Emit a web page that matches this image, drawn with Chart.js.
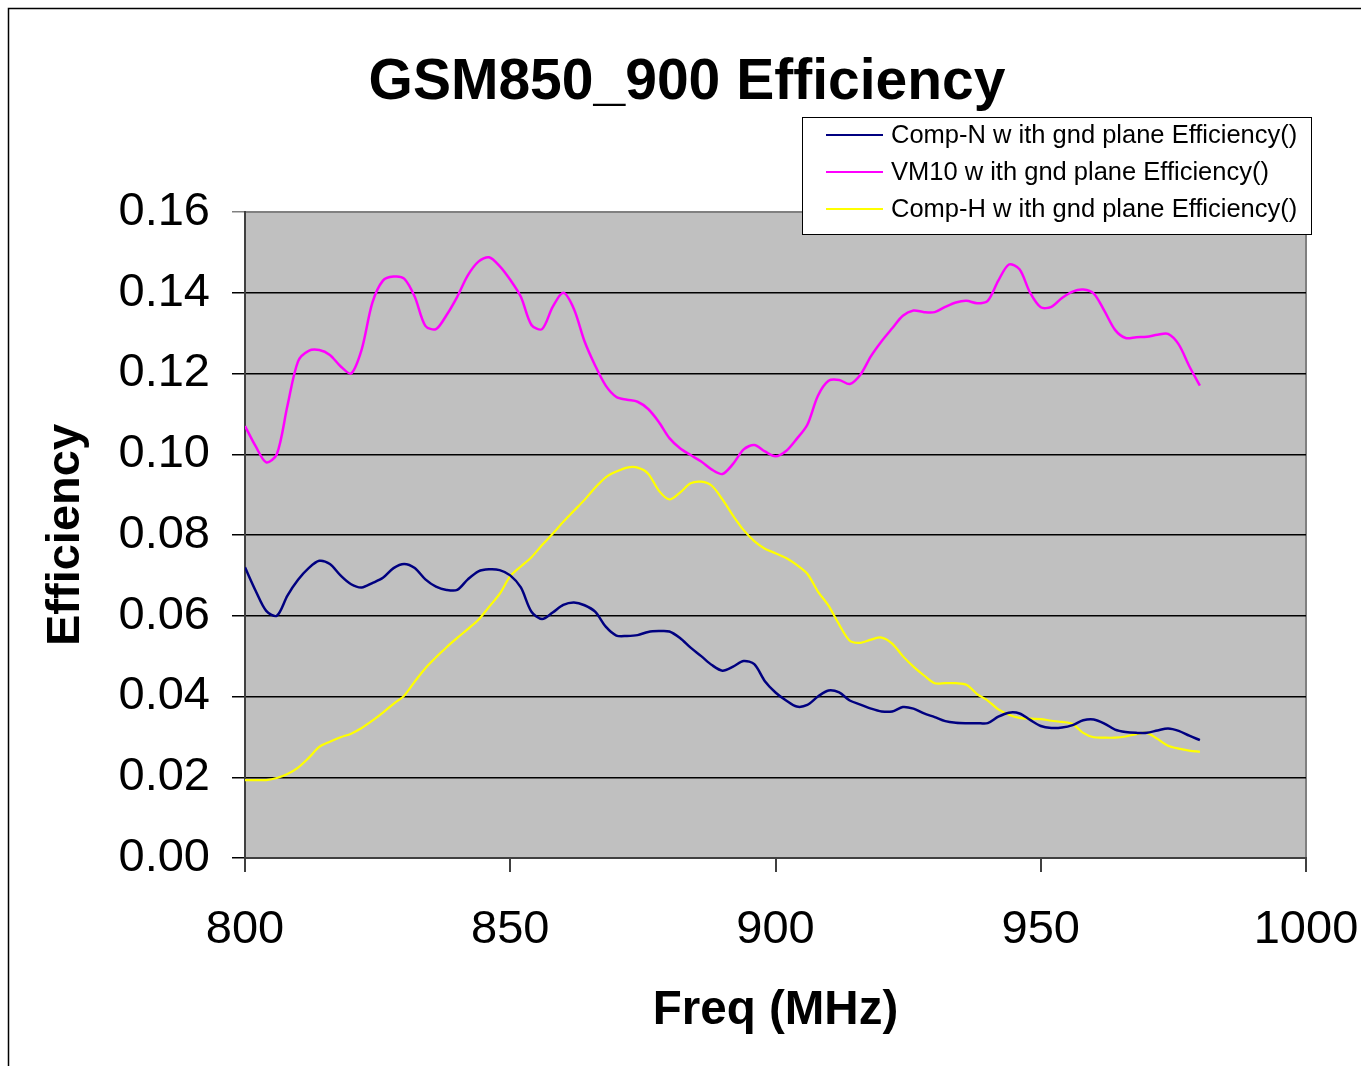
<!DOCTYPE html>
<html>
<head>
<meta charset="utf-8">
<script src="https://cdn.jsdelivr.net/npm/chart.js@4.4.1/dist/chart.umd.min.js"></script>
<style>
  html, body { margin: 0; padding: 0; background: #fff; }
  #wrap { width: 1361px; height: 1066px; }
</style>
</head>
<body>
<div id="wrap"><canvas id="effChart" width="1361" height="1066"></canvas></div>
<script>
const FREQ = [800,802,804,806,808,810,812,814,816,818,820,822,824,826,828,830,832,834,836,838,
  840,842,844,846,848,850,852,854,856,858,860,862,864,866,868,870,872,874,876,878,
  880,882,884,886,888,890,892,894,896,898,900,902,904,906,908,910,912,914,916,918,
  920,922,924,926,928,930,932,934,936,938,940,942,944,946,948,950,952,954,956,958,
  960,962,964,966,968,970,972,974,976,978,980];

const COMP_N = [0.0720,0.0662,0.0612,0.0600,0.0650,0.0689,0.0718,0.0736,0.0728,0.0700,
  0.0678,0.0670,0.0681,0.0694,0.0718,0.0728,0.0718,0.0690,0.0672,0.0664,
  0.0664,0.0690,0.0710,0.0715,0.0713,0.0700,0.0670,0.0610,0.0592,0.0608,
  0.0627,0.0633,0.0626,0.0610,0.0573,0.0551,0.0550,0.0552,0.0560,0.0562,
  0.0561,0.0545,0.0521,0.0500,0.0478,0.0464,0.0474,0.0488,0.0480,0.0438,
  0.0410,0.0390,0.0375,0.0379,0.0400,0.0415,0.0410,0.0390,0.0380,0.0370,
  0.0363,0.0363,0.0374,0.0370,0.0358,0.0349,0.0339,0.0335,0.0334,0.0334,
  0.0334,0.0350,0.0360,0.0358,0.0342,0.0327,0.0322,0.0323,0.0329,0.0341,
  0.0343,0.0333,0.0318,0.0312,0.0310,0.0310,0.0316,0.0321,0.0315,0.0303,0.0292];

const VM10 = [0.1070,0.1020,0.0980,0.1000,0.1120,0.1230,0.1256,0.1258,0.1246,0.1218,
  0.1200,0.1260,0.1375,0.1430,0.1440,0.1435,0.1390,0.1318,0.1310,0.1345,
  0.1390,0.1443,0.1477,0.1488,0.1466,0.1432,0.1390,0.1320,0.1310,0.1365,
  0.1400,0.1360,0.1280,0.1220,0.1170,0.1142,0.1135,0.1130,0.1112,0.1080,
  0.1040,0.1015,0.0998,0.0982,0.0962,0.0951,0.0976,0.1012,0.1023,0.1007,
  0.0995,0.1008,0.1038,0.1073,0.1145,0.1182,0.1184,0.1174,0.1197,0.1243,
  0.1280,0.1312,0.1343,0.1356,0.1352,0.1352,0.1365,0.1376,0.1380,0.1374,
  0.1380,0.1430,0.1470,0.1458,0.1400,0.1364,0.1365,0.1387,0.1403,0.1408,
  0.1398,0.1355,0.1308,0.1288,0.1290,0.1291,0.1296,0.1298,0.1272,0.1218,0.1170];

const COMP_H = [0.0193,0.0193,0.0193,0.0198,0.0208,0.0224,0.0248,0.0275,0.0288,0.0299,
  0.0308,0.0322,0.0340,0.0360,0.0382,0.0402,0.0437,0.0470,0.0497,0.0522,
  0.0545,0.0567,0.0590,0.0622,0.0654,0.0698,0.0722,0.0745,0.0775,0.0803,
  0.0833,0.0860,0.0887,0.0917,0.0943,0.0957,0.0967,0.0967,0.0952,0.0910,
  0.0888,0.0905,0.0928,0.0932,0.0922,0.0888,0.0848,0.0812,0.0785,0.0766,
  0.0755,0.0743,0.0726,0.0704,0.0660,0.0625,0.0578,0.0538,0.0533,0.0541,
  0.0546,0.0531,0.0500,0.0474,0.0452,0.0433,0.0433,0.0433,0.0429,0.0406,
  0.0390,0.0368,0.0355,0.0347,0.0345,0.0344,0.0340,0.0337,0.0332,0.0310,
  0.0299,0.0298,0.0298,0.0301,0.0307,0.0310,0.0295,0.0278,0.0271,0.0266,0.0263];

const LABELS = ['Comp-N w ith gnd plane Efficiency()', 'VM10 w ith gnd plane Efficiency()', 'Comp-H w ith gnd plane Efficiency()'];
const COLORS = ['#000080', '#FF00FF', '#FFFF00'];
const FONT = '"Liberation Sans", Arial, sans-serif';

const toPoints = arr => FREQ.map((f, i) => ({ x: f, y: arr[i] }));

// grey plot area + outer frame, drawn under the grid
const plotBg = {
  id: 'plotBg',
  beforeDraw(chart) {
    const { ctx, chartArea: a } = chart;
    ctx.save();
    ctx.strokeStyle = '#000';
    ctx.lineWidth = 1.5;
    ctx.beginPath();
    ctx.moveTo(8.5, chart.height);
    ctx.lineTo(8.5, 8.5);
    ctx.lineTo(chart.width, 8.5);
    ctx.stroke();
    ctx.fillStyle = '#C0C0C0';
    ctx.fillRect(a.left, a.top, a.right - a.left, a.bottom - a.top);
    ctx.strokeStyle = '#808080';
    ctx.lineWidth = 2;
    ctx.strokeRect(a.left, a.top, a.right - a.left, a.bottom - a.top);
    ctx.restore();
  }
};

// boxed legend sitting over the top right corner of the plot
const boxLegend = {
  id: 'boxLegend',
  afterDraw(chart) {
    const { ctx } = chart;
    const x = 802, y = 117, w = 509, h = 117;
    ctx.save();
    ctx.fillStyle = '#fff';
    ctx.fillRect(x, y, w, h);
    ctx.strokeStyle = '#000';
    ctx.lineWidth = 1;
    ctx.strokeRect(x + 0.5, y + 0.5, w, h);
    ctx.font = '25.5px ' + FONT;
    ctx.textBaseline = 'middle';
    chart.data.datasets.forEach((ds, i) => {
      const cy = 135 + i * 37;
      ctx.strokeStyle = ds.borderColor;
      ctx.lineWidth = 2;
      ctx.beginPath();
      ctx.moveTo(826, cy);
      ctx.lineTo(883, cy);
      ctx.stroke();
      ctx.fillStyle = '#000';
      ctx.fillText(ds.label, 891, cy + 1);
    });
    ctx.restore();
  }
};

new Chart(document.getElementById('effChart'), {
  type: 'line',
  data: {
    datasets: [
      { label: LABELS[0], data: toPoints(COMP_N), borderColor: COLORS[0], backgroundColor: COLORS[0], borderWidth: 2.5, pointRadius: 0, tension: 0.3 },
      { label: LABELS[1], data: toPoints(VM10), borderColor: COLORS[1], backgroundColor: COLORS[1], borderWidth: 2.5, pointRadius: 0, tension: 0.3 },
      { label: LABELS[2], data: toPoints(COMP_H), borderColor: COLORS[2], backgroundColor: COLORS[2], borderWidth: 2.2, pointRadius: 0, tension: 0.3 }
    ]
  },
  options: {
    responsive: false,
    animation: false,
    layout: { padding: { left: 68, right: 55, top: 0, bottom: 0 } },
    plugins: {
      legend: { display: false },
      tooltip: { enabled: false },
      title: {
        display: true,
        text: 'GSM850_900 Efficiency',
        color: '#000',
        font: { family: FONT, size: 57, weight: 'bold' },
        padding: { top: 49, bottom: 94.6 }
      }
    },
    scales: {
      x: {
        type: 'linear',
        min: 800,
        max: 1000,
        afterFit: s => { s.height = 1066 - 858; s.paddingLeft = 0; s.paddingRight = 0; },
        grid: { drawOnChartArea: false, color: '#404040', lineWidth: 2, tickLength: 14 },
        border: { color: '#404040', width: 2 },
        ticks: { stepSize: 50, color: '#000', padding: 30, maxRotation: 0, font: { family: FONT, size: 47 }, callback: v => String(v) },
        title: { display: true, text: 'Freq (MHz)', color: '#000', font: { family: FONT, size: 47.5, weight: 'bold' }, padding: { top: 0, bottom: 27 } }
      },
      y: {
        min: 0,
        max: 0.16,
        afterFit: s => { s.width = 245 - 68; s.paddingTop = 0; s.paddingBottom = 0; },
        grid: {
          color: ctx => ctx.tick && ctx.tick.value >= 0.159 ? '#808080' : '#000',
          lineWidth: 1.5,
          tickLength: 13
        },
        border: { color: '#404040', width: 2 },
        ticks: { stepSize: 0.02, color: '#000', padding: 22, font: { family: FONT, size: 47 }, callback: v => v.toFixed(2) },
        title: { display: true, text: 'Efficiency', color: '#000', font: { family: FONT, size: 47, weight: 'bold' }, padding: { top: -30, bottom: 0 } }
      }
    }
  },
  plugins: [plotBg, boxLegend]
});
</script>
</body>
</html>
